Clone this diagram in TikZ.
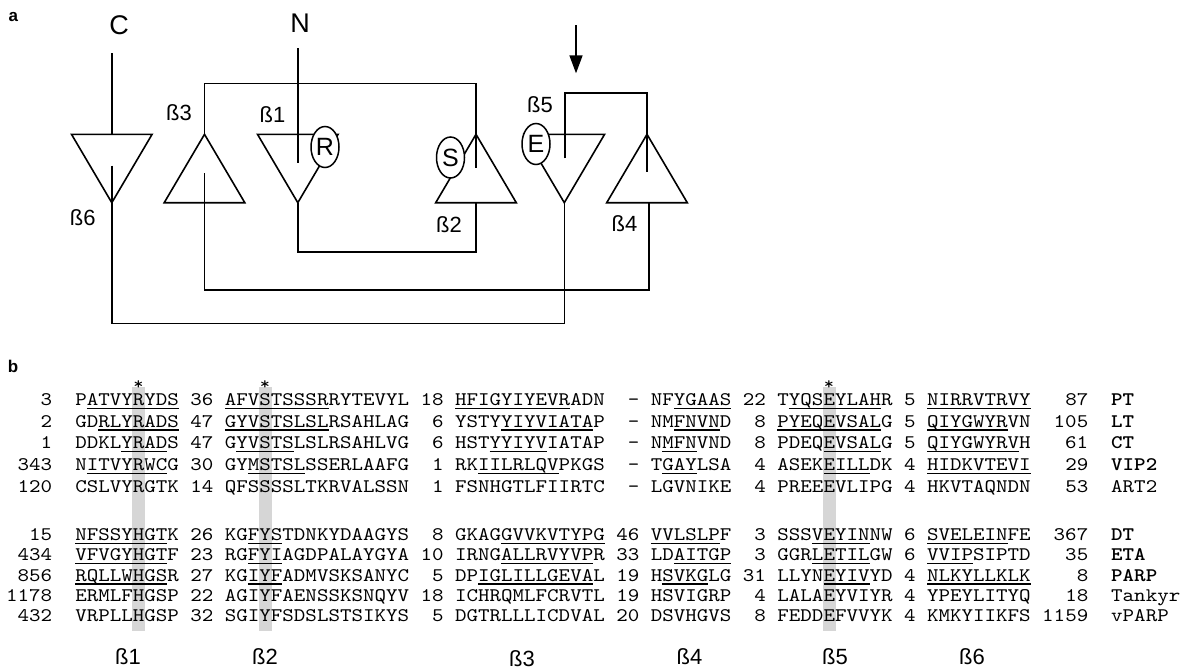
\documentclass[tikz,border=0pt]{standalone}
\usepackage{fontspec}
\setmainfont{Liberation Sans}
\newfontfamily\seqfont{lmmono10-regular.otf}[FakeStretch=1.142, BoldFont=lmmonolt10-bold.otf]
\usetikzlibrary{arrows.meta,shapes.geometric}
\newsavebox\usgbox
\newcommand\usg[1]{\sbox\usgbox{#1}\rlap{\rule[-3.4pt]{\wd\usgbox}{1.4pt}}\usebox\usgbox}
\tikzset{
  seq/.style={anchor=base west, inner sep=0pt, font={\seqfont\fontsize{19.2}{20}\selectfont}},
  lab/.style={anchor=base west, inner sep=0pt, font={\seqfont\fontsize{19.2}{20}\selectfont}},
  blab/.style={anchor=base west, inner sep=0pt, font={\seqfont\fontsize{19.2}{20}\selectfont\bfseries}},
  star/.style={anchor=base, inner sep=0pt, font={\seqfont\fontsize{17}{18}\selectfont}},
  bar/.style={fill=black!16, draw=none},
  strand/.style={line width=1.6pt, line join=miter},
  conn/.style={line width=1.6pt},
  bl/.style={inner sep=0pt, font={\fontsize{22}{24}\selectfont}},
  term/.style={inner sep=0pt, font={\fontsize{27}{29}\selectfont}},
  res/.style={ellipse, draw, line width=1.5pt, fill=white, minimum width=28pt, minimum height=41pt, inner sep=0pt, font={\fontsize{25}{27}\selectfont}},
  panel/.style={inner sep=0pt, font={\fontsize{17}{18}\selectfont\bfseries}}
}
\begin{document}
\begin{tikzpicture}[x=1pt,y=-1pt]
\useasboundingbox (0,0) rectangle (1190,670);
% ---------- panel a ----------
\node[panel] (pa) at (13.4,17) {a};
\node[term] (tC) at (119,25) {C};
\node[term] (tN) at (300,23.5) {N};
% triangles
\coordinate (b6a) at (111.8,202.7);
\draw[strand] (71.5,134.3) -- (152.1,134.3) -- (b6a) -- cycle;
\coordinate (b3a) at (204.5,134.3);
\draw[strand] (b3a) -- (164.2,202.7) -- (244.8,202.7) -- cycle;
\coordinate (b1a) at (297.8,202.7);
\draw[strand] (257.5,134.3) -- (338.1,134.3) -- (b1a) -- cycle;
\coordinate (b2a) at (476,134.3);
\draw[strand] (b2a) -- (435.7,202.7) -- (516.3,202.7) -- cycle;
\coordinate (b5a) at (564.3,202.7);
\draw[strand] (524,134.3) -- (604.6,134.3) -- (b5a) -- cycle;
\coordinate (b4a) at (647,134.3);
\draw[strand] (b4a) -- (606.7,202.7) -- (687.3,202.7) -- cycle;
% connectors
\coordinate (cTop) at (111.8,53.3);
\coordinate (b6top) at (111.8,134.3);
\draw[conn] (cTop) -- (b6top);
\coordinate (b6in) at (111.8,165.7);
\draw[conn] (b6in) -- (111.8,323.3) -- (564.3,323.3) -- (b5a);
\coordinate (b2in) at (476,168.3);
\draw[conn] (b3a) -- (204.5,83.3) -- (476,83.3) -- (b2in);
\coordinate (b3in) at (204.5,173.3);
\coordinate (b4base) at (649,202.7);
\draw[conn] (b3in) -- (204.5,290) -- (649,290) -- (b4base);
\coordinate (nTop) at (298,48.3);
\coordinate (b1in) at (298,162.7);
\draw[conn] (nTop) -- (b1in);
\coordinate (b2base) at (476,202.7);
\draw[conn] (b1a) -- (297.8,251.7) -- (476,251.7) -- (b2base);
\coordinate (b5in) at (565,158.3);
\coordinate (b4in) at (647,171.7);
\draw[conn] (b5in) -- (565,92.7) -- (647,92.7) -- (b4in);
\coordinate (arT) at (576,25);
\coordinate (arH) at (576,73.3);
\draw[conn, -{Triangle[width=13pt,length=18pt]}] (arT) -- (arH);
% residues
\node[res] (eR) at (325,147) {R};
\node[res] (eS) at (450.5,157.5) {S};
\node[res] (eE) at (536,144) {E};
% strand labels
\node[bl] (lb3) at (179,113) {ß3};
\node[bl] (lb1) at (272.5,114.5) {ß1};
\node[bl] (lb6) at (82.7,218) {ß6};
\node[bl] (lb2) at (449,225) {ß2};
\node[bl] (lb4) at (624.5,224) {ß4};
\node[bl] (lb5) at (540,104.5) {ß5};
% ---------- panel b ----------
\node[panel] (pb) at (13,366) {b};
\fill[bar] (131.9,387) rectangle (144.9,631);
\fill[bar] (258.5,387) rectangle (271.5,631);
\fill[bar] (822.5,387) rectangle (835.5,631);
\node[star] (s1) at (138.4,389) {*};
\node[star] (s2) at (265,389) {*};
\node[star] (s3) at (829,389) {*};
% group 1
\node[seq] (r1) at (6,405.7) {~~~3~~P\usg{ATVYRYDS}~36~\usg{AFVSTSSSR}RYTEVYL~18~\usg{HFIGYIYEVR}ADN~~-~NF\usg{YGAAS}~22~T\usg{YQSEYLAH}R~5~\usg{NIRRVTRVY}~~~87};
\node[blab] (n1) at (1111,405.7) {PT};
\node[seq] (r2) at (6,427.3) {~~~2~~GD\usg{RLYRADS}~47~\usg{GYVSTSLSL}RSAHLAG~~6~YSTY\usg{YIYVIATA}P~~-~NM\usg{FNVN}D~~8~\usg{PYEQEVSAL}G~5~\usg{QIYGWYR}VN~~105};
\node[blab] (n2) at (1111,427.3) {LT};
\node[seq] (r3) at (6,448.9) {~~~1~~DDKL\usg{YRAD}S~47~G\usg{YVSTS}LSLRSAHLVG~~6~HST\usg{YYIYV}IATAP~~-~N\usg{MFN}VND~~8~PDEQ\usg{EVSAL}G~5~\usg{QIYGWYRV}H~~~61};
\node[blab] (n3) at (1111,448.9) {CT};
\node[seq] (r4) at (6,470.5) {~343~~N\usg{ITVYRWC}G~30~GY\usg{MSTSL}SSERLAAFG~~1~RK\usg{IILRLQV}PKGS~~-~T\usg{GAY}LSA~~4~ASEK\usg{EILL}DK~4~\usg{HIDKVTEVI}~~~29};
\node[blab] (n4) at (1111,470.5) {VIP2};
\node[seq] (r5) at (6,492.1) {~120~~CSLVYRGTK~14~QFSSSSLTKRVALSSN~~1~FSNHGTLFIIRTC~~-~LGVNIKE~~4~PREEEVLIPG~4~HKVTAQNDN~~~53};
\node[lab] (n5) at (1111,492.1) {ART2};
% group 2
\node[seq] (r6) at (6,540.5) {~~15~~\usg{NFSSYHGT}K~26~KG\usg{FYS}TDNKYDAAGYS~~8~GKAG\usg{GVVKVTYPG}~46~\usg{VVLSLP}F~~3~SSS\usg{VEYIN}NW~6~\usg{SVELEIN}FE~~367};
\node[blab] (n6) at (1111,540.5) {DT};
\node[seq] (r7) at (6,560.8) {~434~~\usg{VFVGYHGT}F~23~RG\usg{FYI}AGDPALAYGYA~10~IRNG\usg{ALLRVYVP}R~33~LD\usg{AITGP}~~3~GGR\usg{LETIL}GW~6~\usg{VVIP}SIPTD~~~35};
\node[blab] (n7) at (1111,560.8) {ETA};
\node[seq] (r8) at (6,581.1) {~856~~\usg{RQLLWHGS}R~27~KG\usg{IYF}ADMVSKSANYC~~5~DP\usg{IGLILLGEVA}L~19~H\usg{SVKG}LG~31~LLYN\usg{EYIV}YD~4~\usg{NLKYLLKLK}~~~~8};
\node[blab] (n8) at (1111,581.1) {PARP};
\node[seq] (r9) at (6,601.4) {1178~~ERMLFHGSP~22~AGIYFAENSSKSNQYV~18~ICHRQMLFCRVTL~19~HSVIGRP~~4~LALAEYVIYR~4~YPEYLITYQ~~~18};
\node[lab] (n9) at (1111,601.4) {Tankyr};
\node[seq] (r10) at (6,621.7) {~432~~VRPLLHGSP~32~SGIYFSDSLSTSIKYS~~5~DGTRLLLICDVAL~20~DSVHGVS~~8~FEDDEFVVYK~4~KMKYIIKFS~1159};
\node[lab] (n10) at (1111,621.7) {vPARP};
% strand names
\node[bl] (sb1) at (128,657) {ß1};
\node[bl] (sb2) at (265,657) {ß2};
\node[bl] (sb3) at (522,659) {ß3};
\node[bl] (sb4) at (689.5,657) {ß4};
\node[bl] (sb5) at (835,657) {ß5};
\node[bl] (sb6) at (972,657) {ß6};
\end{tikzpicture}
\end{document}
